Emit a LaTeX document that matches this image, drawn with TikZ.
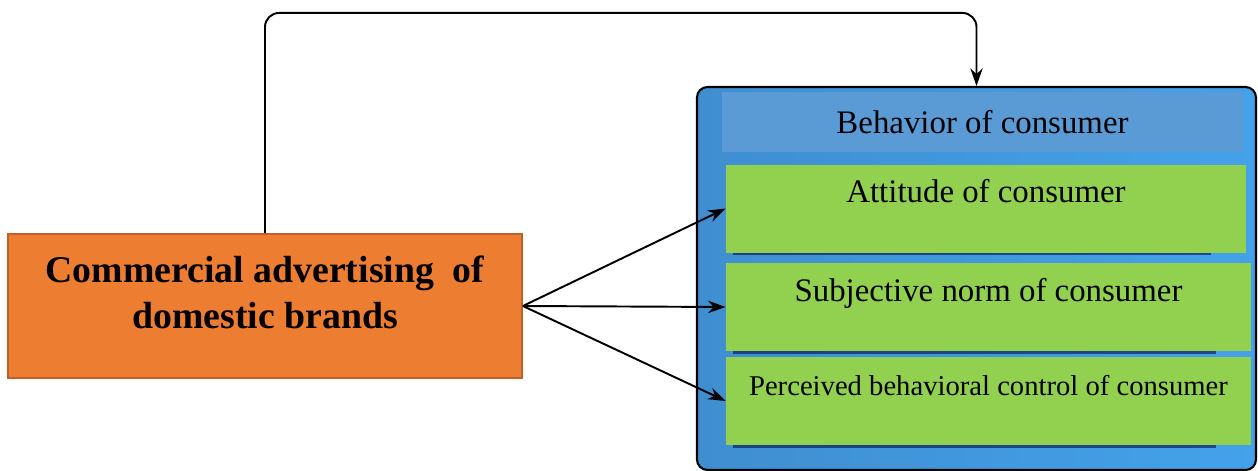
\documentclass[tikz,border=0pt]{standalone}
\usepackage{fontspec}
\setmainfont{Liberation Serif}
\usetikzlibrary{arrows.meta,shadows}
\definecolor{advorange}{HTML}{ED7D31}
\definecolor{advedge}{HTML}{C0602A}
\definecolor{outerblue}{HTML}{3F8ED0}
\definecolor{outerlight}{HTML}{44A2EA}
\definecolor{headblue}{HTML}{5B9BD5}
\definecolor{partgreen}{HTML}{92D050}
\begin{document}
\begin{tikzpicture}[>={Stealth[length=10pt,width=7pt]},
  advbox/.style={draw=advedge,line width=1pt,fill=advorange,minimum width=10.28cm,minimum height=2.88cm,align=center,text height=1.5cm,text depth=0.62cm,font=\fontsize{21.5}{26}\selectfont\bfseries},
  outerbox/.style={draw=black,line width=1.2pt,rounded corners=6pt,left color=outerblue,right color=outerlight,minimum width=11.18cm,minimum height=7.66cm},
  headbox/.style={fill=headblue,minimum width=10.42cm,minimum height=1.2cm,inner sep=0pt,font=\fontsize{18.7}{22}\selectfont},
  partbox/.style={fill=partgreen,inner sep=0pt,text height=0.76cm,text depth=1cm,font=\fontsize{18.7}{22}\selectfont,drop shadow={shadow scale=0.92,shadow xshift=-0.3cm,shadow yshift=-4pt,opacity=0.55,fill=black!75!blue}},
  link/.style={->,line width=1.1pt}]
\useasboundingbox (0,0) rectangle (25.16,9.4);
\node[advbox] (adv) at (5.3,3.28) {Commercial advertising\ \ of\\domestic brands};
\node[outerbox] (outer) at (19.53,3.83) {};
\node[headbox] (head) at (19.65,6.96) {Behavior of consumer};
\node[partbox,minimum width=10.4cm] (att) at (19.72,5.23) {Attitude of consumer};
\node[partbox,minimum width=10.5cm] (norm) at (19.77,3.26) {Subjective norm of consumer};
\node[partbox,minimum width=10.5cm,font=\fontsize{16.3}{20}\selectfont] (ctrl) at (19.77,1.38) {Perceived behavioral control of consumer};
\draw[link] (adv.east) -- (att.west);
\draw[link] (adv.east) -- (norm.west);
\draw[link] (adv.east) -- (ctrl.west);
\draw[link,rounded corners=8pt] (adv.north) |- ([yshift=1.46cm]outer.north) -- (outer.north);
\end{tikzpicture}
\end{document}
